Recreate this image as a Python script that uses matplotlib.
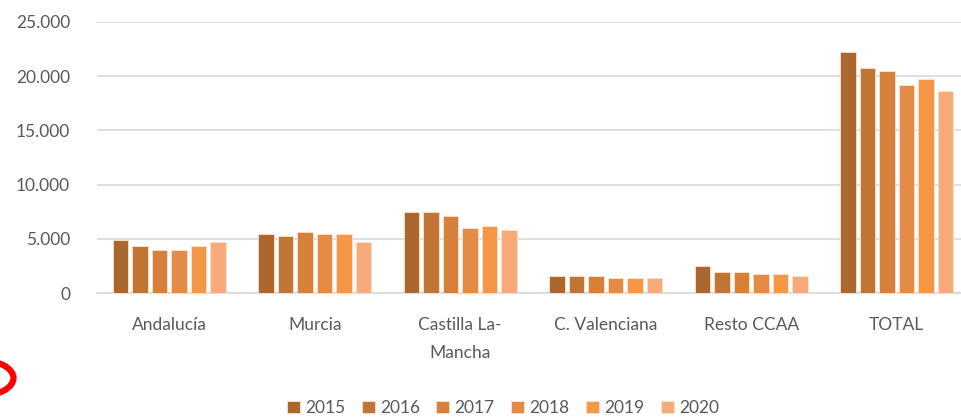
import matplotlib
matplotlib.use("Agg")
import matplotlib.pyplot as plt
import numpy as np
from matplotlib.patches import Ellipse
from matplotlib.ticker import FuncFormatter

categories = ["Andalucía", "Murcia", "Castilla La-\nMancha", "C. Valenciana", "Resto CCAA", "TOTAL"]
years = ["2015", "2016", "2017", "2018", "2019", "2020"]
v2015 = [4900, 5450, 7450, 1550, 2450, 22250]
v2016 = [4300, 5250, 7450, 1550, 1900, 20800]
v2017 = [3950, 5600, 7100, 1550, 1900, 20450]
v2018 = [3950, 5450, 6000, 1350, 1750, 19150]
v2019 = [4300, 5450, 6150, 1350, 1750, 19700]
v2020 = [4700, 4700, 5800, 1350, 1550, 18600]
series = [v2015, v2016, v2017, v2018, v2019, v2020]
colors = ["#AC672E", "#C07535", "#D6803C", "#E48B46", "#F69748", "#F7AB7A"]

plt.rcParams['font.family'] = ['Lato', 'DejaVu Sans']

W, H = 961, 417
fig = plt.figure(figsize=(W/100, H/100), dpi=100)
left, right, top, bottom = 96.5, 969.5, 22, 293
ax = fig.add_axes([left/W, (H-bottom)/H, (right-left)/W, (bottom-top)/H])

x = np.arange(len(categories))
step = 0.134
width = 0.104
for i, (vals, c, yr) in enumerate(zip(series, colors, years)):
    ax.bar(x + (i - 2.5)*step, vals, width, color=c, label=yr,
           edgecolor="#FBE3D0", linewidth=0.6, zorder=3)

ax.set_xlim(-0.5, len(categories)-0.5)
ax.set_ylim(0, 25000)
ax.set_yticks(np.arange(0, 25001, 5000))
ax.yaxis.set_major_formatter(FuncFormatter(lambda v, p: f"{int(v):,}".replace(",", ".")))
ax.grid(axis='y', color="#D9D9D9", linewidth=1.2, zorder=0)
for s in ["top", "right", "left"]:
    ax.spines[s].set_visible(False)
ax.spines["bottom"].set_color("#D9D9D9")
ax.spines["bottom"].set_linewidth(1.2)
ax.tick_params(axis='both', length=0, colors="#595959", labelsize=12.5)
ax.tick_params(axis='y', pad=19)
ax.tick_params(axis='x', pad=17)
ax.set_xticks(x)
ax.set_xticklabels(categories, linespacing=1.95, va='top')

leg = fig.legend(loc='center', bbox_to_anchor=(503/W, 1 - 408/H), ncol=6, frameon=False,
                 fontsize=12.5, handlelength=0.75, handleheight=0.75, handletextpad=0.3,
                 columnspacing=0.95, labelcolor="#595959")

ell = Ellipse((-18/W, 1 - 378/H), 63/W, 35/H, transform=fig.transFigure,
              fill=False, edgecolor="#FF0000", linewidth=4.5)
fig.patches.append(ell)

fig.savefig("out.png", dpi=100)
